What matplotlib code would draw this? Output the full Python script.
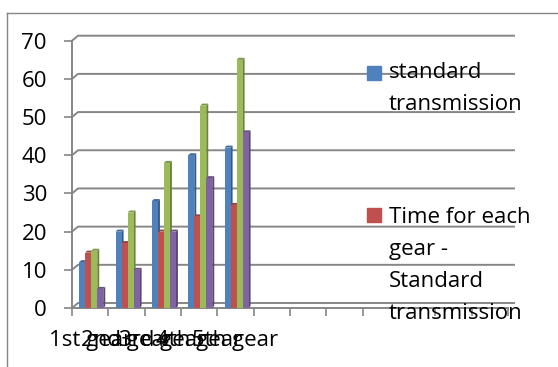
import matplotlib
matplotlib.use("Agg")
import matplotlib.pyplot as plt
from matplotlib.patches import Polygon
from matplotlib.lines import Line2D
import numpy as np

plt.rcParams['font.family'] = ['Open Sans', 'DejaVu Sans']

# ---- data -------------------------------------------------------------
categories = ["1st gear", "2nd gear", "3rd gear", "4th gear", "5th gear"]
n_slots = 12  # category axis has room for 12 slots, only 5 filled
standard = [12, 20, 28, 40, 42]
time_standard = [14.5, 17, 20, 24, 27]
series_c = [15, 25, 38, 53, 65]
series_d = [5, 10, 20, 34, 46]
series = [standard, time_standard, series_c, series_d]
colors = ["#4F81BD", "#C0504D", "#9BBB59", "#8064A2"]
legend_labels = ["standard\ntransmission",
                 "Time for each\ngear -\nStandard\ntransmission"]
y_ticks = list(range(0, 71, 10))

W, H = 558, 367
FS = 16
fig = plt.figure(figsize=(W / 100, H / 100), dpi=100)

# plot area (front face)
x0, x1, ytop, ybot = 72, 508, 40.7, 308
ax = fig.add_axes([x0 / W, (H - ybot) / H, (x1 - x0) / W, (ybot - ytop) / H])
ax.set_xlim(0, n_slots)
ax.set_ylim(0, 70)
ax.patch.set_alpha(0)

grid_c = "#868686"
for s in ("top", "right"):
    ax.spines[s].set_visible(False)
for s in ("left", "bottom"):
    ax.spines[s].set_color(grid_c)
    ax.spines[s].set_linewidth(1.4)

# depth of the back wall in data units (about 6 px right, 5 px up)
px_x = (x1 - x0) / n_slots
px_y = (ybot - ytop) / 70
dx, dy = 6 / px_x, 5 / px_y

for lv in y_ticks:
    ax.add_line(Line2D([0, dx, n_slots + dx], [lv, lv + dy, lv + dy],
                       color=grid_c, lw=1.4, clip_on=False, zorder=1))

ax.set_yticks(y_ticks)
ax.tick_params(axis='y', length=6, width=1.2, color=grid_c, pad=12,
               labelsize=FS, labelcolor="black")
ax.set_xticks(np.arange(len(categories)) + 0.5)
ax.set_xticklabels(categories)
ax.set_xticks(np.arange(0, n_slots + 1), minor=True)
ax.tick_params(axis='x', which='major', length=0, pad=16, labelsize=FS)
ax.tick_params(axis='x', which='minor', length=6, width=1.2, color=grid_c)


def shade(c, f):
    r, g, b = matplotlib.colors.to_rgb(c)
    return (r * f, g * f, b * f)


bw = 0.165
start = 0.2
ddx, ddy = 2 / px_x, 2 / px_y
for i in range(len(categories)):
    for k, vals in enumerate(series):
        h = vals[i]
        xl = i + start + k * bw
        xr = xl + bw
        col = colors[k]
        z = 3 + k * 0.1
        side = Polygon([(xr, 0), (xr + ddx, ddy), (xr + ddx, h + ddy), (xr, h)],
                       closed=True, fc=shade(col, 0.7), ec='none', zorder=z)
        top = Polygon([(xl, h), (xl + ddx, h + ddy), (xr + ddx, h + ddy), (xr, h)],
                      closed=True, fc=shade(col, 0.8), ec='none', zorder=z)
        ax.add_patch(side)
        ax.add_patch(top)
        ax.bar(xl, h, width=bw, align='edge', color=col, zorder=z + 0.05,
               linewidth=0)

# outer chart border (left and top edges)
fig.add_artist(Line2D([7 / W, 7 / W], [0, 1 - 13 / H], color=grid_c, lw=1.0))
fig.add_artist(Line2D([7 / W, 1], [1 - 13 / H, 1 - 13 / H], color=grid_c, lw=1.0))

# legend
line_h = 32
entries = [(66, 78), (208, 223)]
for (sq_top, base), lab, col in zip(entries, legend_labels, colors):
    fig.add_artist(plt.Rectangle((367 / W, 1 - (sq_top + 14) / H), 14 / W, 14 / H,
                                 transform=fig.transFigure, color=col))
    for j, line in enumerate(lab.split("\n")):
        fig.text(389 / W, 1 - (base + j * line_h) / H, line, fontsize=FS,
                 va='baseline', ha='left', zorder=10)

fig.savefig("out.png", dpi=100)
